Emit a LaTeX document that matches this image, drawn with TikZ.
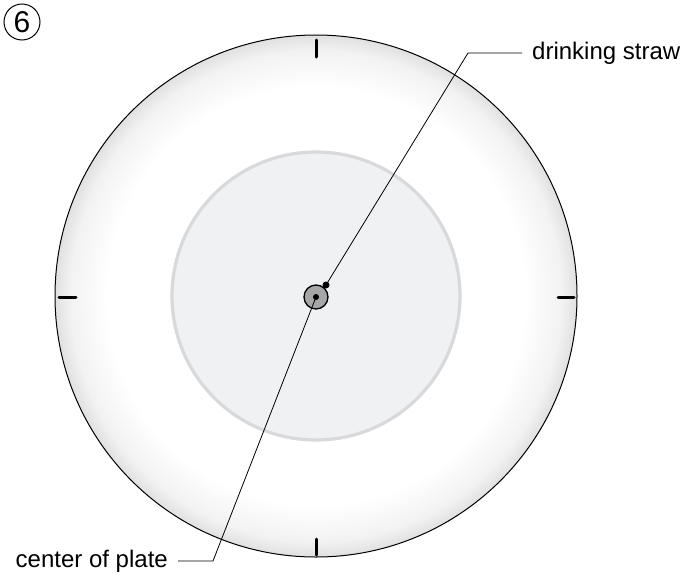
\documentclass[tikz,border=0pt]{standalone}
\usepackage{fontspec}
\setmainfont{Liberation Sans}
\pgfdeclareradialshading{plateshade}{\pgfpoint{0bp}{0bp}}{color(0bp)=(white); color(20bp)=(white); color(23.5bp)=(black!5); color(25bp)=(black!12); color(50bp)=(black!12)}
\tikzset{
  lbl/.style={font=\fontsize{24}{28}\selectfont, inner sep=0pt},
  tick/.style={line width=3pt, line cap=round},
  leader/.style={line width=0.8pt},
}
\begin{document}
\begin{tikzpicture}[x=1pt,y=-1pt]
\useasboundingbox (0,0) rectangle (683,576);
% plate
\coordinate (c) at (316,296);
\shade[shading=plateshade] (c) circle[radius=261];
\draw[line width=1pt] (c) circle[radius=261];
\fill[fill={rgb,255:red,240;green,241;blue,243}] (c) circle[radius=144];
\draw[line width=3.2pt, draw={rgb,255:red,217;green,217;blue,219}] (c) circle[radius=144];
% ticks
\draw[tick] (316,40) -- (316,57);
\draw[tick] (316,539) -- (316,555);
\draw[tick] (59,297) -- (76,297);
\draw[tick] (558,297) -- (574,297);
% straw
\node[circle, draw, line width=1.3pt, fill=black!35, minimum size=24pt, inner sep=0pt] (hole) at (316,297) {};
\node[circle, fill=black, minimum size=6pt, inner sep=0pt] (cdot) at (316,297) {};
\node[circle, fill=black, minimum size=7pt, inner sep=0pt] (sdot) at (326,285) {};
% labels
\node[lbl, anchor=west] (straw) at (532,53) {drinking straw};
\node[lbl, anchor=east] (plate) at (168,561) {center of plate};
\coordinate (k1) at (468,53);
\coordinate (k2) at (213,561);
\draw[leader] (sdot.center) -- (k1) -- (straw.west -| 522,53);
\draw[leader] (cdot.center) -- (k2) -- (178,561);
% step number
\node[circle, draw, line width=1pt, minimum size=36pt, inner sep=0pt, font=\fontsize{30}{32}\selectfont] (num) at (22,22) {6};
\end{tikzpicture}
\end{document}
